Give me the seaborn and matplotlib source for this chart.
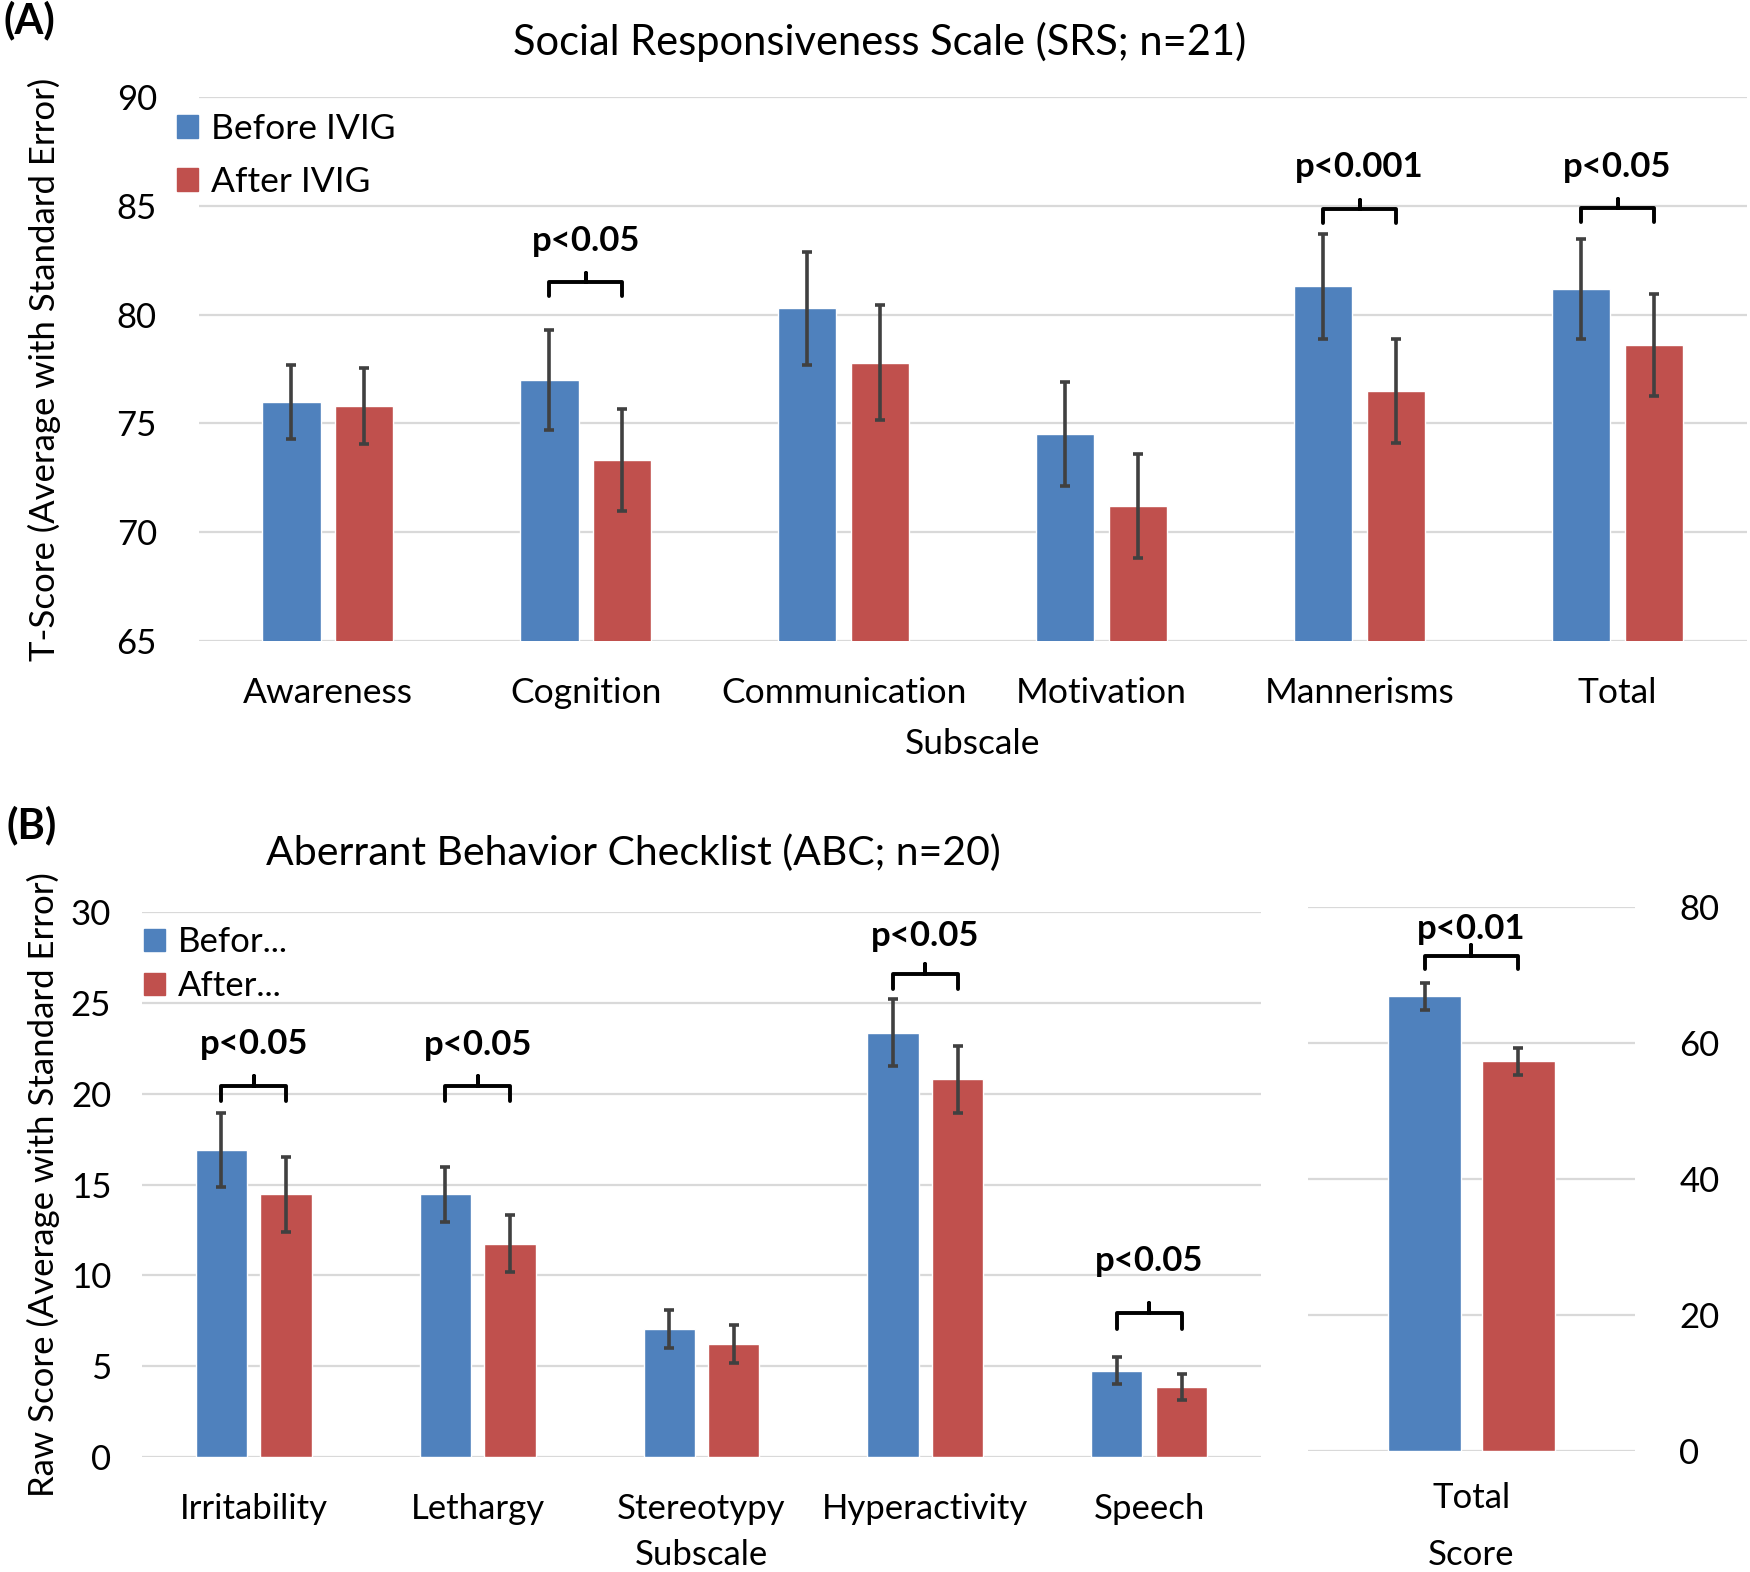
import matplotlib
matplotlib.use("Agg")
import matplotlib.pyplot as plt
import matplotlib.patches as mpatches
import pandas as pd
import seaborn as sns

# ---- data ----
srs_cats = ['Awareness', 'Cognition', 'Communication', 'Motivation', 'Mannerisms', 'Total']
srs_before = [76.0, 77.0, 80.3, 74.5, 81.3, 81.2]
srs_after = [75.8, 73.3, 77.8, 71.2, 76.5, 78.6]
srs_before_se = [1.7, 2.3, 2.6, 2.4, 2.4, 2.3]
srs_after_se = [1.75, 2.35, 2.65, 2.4, 2.4, 2.35]
srs_sig = {1: 'p<0.05', 4: 'p<0.001', 5: 'p<0.05'}

abc_cats = ['Irritability', 'Lethargy', 'Stereotypy', 'Hyperactivity', 'Speech']
abc_before = [16.9, 14.45, 7.05, 23.35, 4.75]
abc_after = [14.45, 11.75, 6.2, 20.8, 3.85]
abc_before_se = [2.05, 1.5, 1.05, 1.85, 0.75]
abc_after_se = [2.05, 1.55, 1.05, 1.85, 0.7]
abc_sig = {0: 'p<0.05', 1: 'p<0.05', 3: 'p<0.05', 4: 'p<0.05'}

tot_cats = ['Total\nScore']
tot_before = [66.8]
tot_after = [57.3]
tot_before_se = [2.0]
tot_after_se = [2.0]
tot_sig = {0: 'p<0.01'}

BLUE = '#4F81BD'
RED = '#C0504D'
GRID = '#D9D9D9'

sns.set_theme(style="white")
plt.rcParams['font.family'] = ['Lato', 'DejaVu Sans']
plt.rcParams['axes.labelcolor'] = 'black'
plt.rcParams['text.color'] = 'black'


def make_df(cats, before, after, lab_b, lab_a):
    return pd.DataFrame({
        'cat': cats + cats,
        'val': before + after,
        'grp': [lab_b] * len(cats) + [lab_a] * len(cats),
    })


def draw_bars(ax, cats, before, after, b_se, a_se, width, gap):
    df = make_df(cats, before, after, 'Before', 'After')
    sns.barplot(data=df, x='cat', y='val', hue='grp', palette=[BLUE, RED],
                width=width, gap=gap, errorbar=None, legend=False, ax=ax,
                saturation=1)
    # seaborn draws hue levels in order: all Before, then all After
    n = len(cats)
    patches = ax.patches[:2 * n]
    xs_b = [p.get_x() + p.get_width() / 2 for p in patches[:n]]
    xs_a = [p.get_x() + p.get_width() / 2 for p in patches[n:]]
    ax.errorbar(xs_b, before, yerr=b_se, fmt='none', ecolor='#404040',
                elinewidth=2.6, capsize=3.5, capthick=2.6, zorder=5)
    ax.errorbar(xs_a, after, yerr=a_se, fmt='none', ecolor='#404040',
                elinewidth=2.6, capsize=3.5, capthick=2.6, zorder=5)
    return xs_b, xs_a


def bracket(ax, x1, x2, y0, h, tip, text, ty, fs):
    xm = (x1 + x2) / 2
    ax.plot([x1, x1, xm, xm, xm, x2, x2],
            [y0, y0 + h, y0 + h, y0 + h + tip, y0 + h, y0 + h, y0],
            color='black', lw=2.8, solid_joinstyle='round', zorder=6)
    ax.text(xm, ty, text, ha='center', va='center', fontsize=fs,
            fontweight='bold', color='black')


def style_axes(ax, ticks, ylim, xlim, tick_fs, right=False):
    ax.set_ylim(*ylim)
    ax.set_xlim(*xlim)
    ax.set_yticks(ticks)
    ax.yaxis.grid(True, color=GRID, lw=1.6)
    ax.set_axisbelow(True)
    for s in ax.spines.values():
        s.set_visible(False)
    ax.tick_params(axis='both', length=0, labelsize=tick_fs, colors='black')
    ax.tick_params(axis='y', pad=30)
    ax.tick_params(axis='x', pad=26)
    if right:
        ax.yaxis.tick_right()
    ax.set_xlabel('')
    ax.set_ylabel('')


fig = plt.figure(figsize=(17.5, 15.72), dpi=100)

# ---------------- Panel A ----------------
axA = fig.add_axes([0.1135, 0.5923, 0.8845, 0.3459])
xb, xa = draw_bars(axA, srs_cats, srs_before, srs_after, srs_before_se,
                   srs_after_se, 0.56, 0.196)
style_axes(axA, [65, 70, 75, 80, 85, 90], (65, 90), (-0.5, 5.5), 25.5)
axA.tick_params(axis='y', labelsize=25)
axA.set_xlabel('Subscale', fontsize=25.5, labelpad=14)
axA.set_ylabel('T-Score (Average with Standard Error)', fontsize=25, labelpad=40)
axA.set_title('Social Responsiveness Scale (SRS; n=21)', fontsize=30, pad=30,
              x=0.44)
sig_pos_A = {1: (80.86, 83.4), 4: (84.2, 86.8), 5: (84.25, 86.8)}
for i, txt in srs_sig.items():
    y0, ty = sig_pos_A[i]
    bracket(axA, xb[i], xa[i], y0, 0.65, 0.4, txt, ty, 25)
legA = axA.legend(handles=[mpatches.Patch(color=BLUE, label='Before IVIG'),
                           mpatches.Patch(color=RED, label='After IVIG')],
                  loc='upper left', bbox_to_anchor=(-0.023, 0.997), frameon=False,
                  fontsize=25.5, handlelength=0.6, handleheight=0.6,
                  handletextpad=0.35, labelspacing=0.6, borderaxespad=0)
fig.text(0.002, 0.987, '(A)', fontsize=30, fontweight='bold', va='center')

# ---------------- Panel B (subscales) ----------------
axB = fig.add_axes([0.081, 0.0732, 0.6397, 0.3466])
xb, xa = draw_bars(axB, abc_cats, abc_before, abc_after, abc_before_se,
                   abc_after_se, 0.578, 0.21)
style_axes(axB, [0, 5, 10, 15, 20, 25, 30], (0, 30), (-0.5, 4.5), 25)
axB.tick_params(axis='y', pad=22)
axB.set_xlabel('Subscale', fontsize=25, labelpad=10)
axB.set_ylabel('Raw Score (Average with Standard Error)', fontsize=25, labelpad=8)
sig_pos_B = {0: (19.6, 22.75), 1: (19.6, 22.7), 3: (25.75, 28.7), 4: (7.07, 10.8)}
for i, txt in abc_sig.items():
    y0, ty = sig_pos_B[i]
    bracket(axB, xb[i], xa[i], y0, 0.85, 0.55, txt, ty, 25)
axB.legend(handles=[mpatches.Patch(color=BLUE, label='Befor...'),
                    mpatches.Patch(color=RED, label='After...')],
           loc='upper left', bbox_to_anchor=(-0.01, 1.0), frameon=False,
           fontsize=25, handlelength=0.6, handleheight=0.6,
           handletextpad=0.35, labelspacing=0.35, borderaxespad=0)
fig.text(0.004, 0.475, '(B)', fontsize=30, fontweight='bold', va='center')
fig.text(0.362, 0.457, 'Aberrant Behavior Checklist (ABC; n=20)', fontsize=29.5,
         ha='center', va='center')

# ---------------- Panel B (total score) ----------------
axT = fig.add_axes([0.7474, 0.0767, 0.1869, 0.3466])
xb, xa = draw_bars(axT, tot_cats, tot_before, tot_after, tot_before_se,
                   tot_after_se, 0.573, 0.215)
style_axes(axT, [0, 20, 40, 60, 80], (0, 80), (-0.5, 0.5), 25, right=True)
axT.tick_params(axis='y', pad=32)
axT.tick_params(axis='x', pad=22)
for lbl in axT.get_xticklabels():
    lbl.set_linespacing(1.95)
for i, txt in tot_sig.items():
    bracket(axT, xb[i], xa[i], 70.8, 1.9, 1.6, txt, 76.7, 25)

fig.savefig('out.png', dpi=100)
